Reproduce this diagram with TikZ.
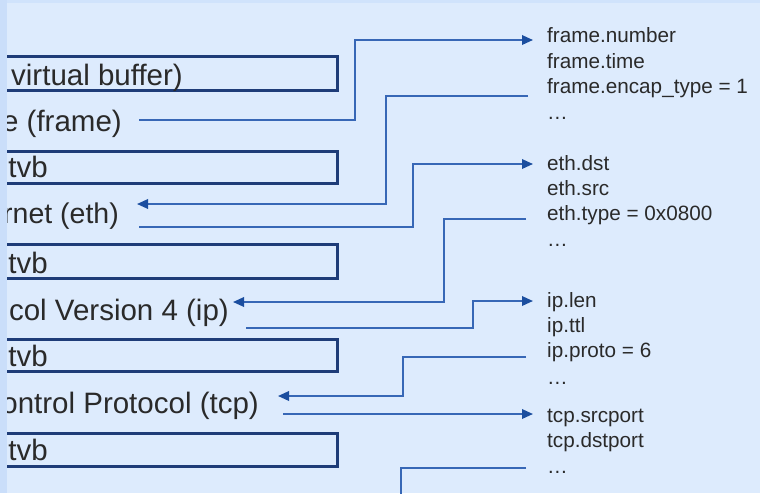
\documentclass[tikz,border=0pt]{standalone}
\usepackage{fontspec}
\setmainfont{Liberation Sans}
\usetikzlibrary{arrows.meta}
\definecolor{bgL}{HTML}{DDEBFD}
\definecolor{strip}{HTML}{CADEFA}
\definecolor{topstrip}{HTML}{D0E3FC}
\definecolor{boxline}{HTML}{1E3C78}
\definecolor{wire}{HTML}{3767B6}
\definecolor{tip}{HTML}{1B4E9F}
\definecolor{ink}{HTML}{2A2A2A}
\tikzset{
  layerbox/.style={draw=boxline, line width=3pt},
  lbl/.style={inner sep=0pt, anchor=base east, text=ink, font=\fontsize{29.5}{31}\selectfont},
  fld/.style={inner sep=0pt, anchor=base west, text=ink, font=\fontsize{20.7}{24}\selectfont},
  wireline/.style={draw=wire, line width=1.8pt},
  wirearrow/.style={wireline, -{Triangle[length=11pt,width=9.5pt,color=tip]}},
}
\begin{document}
\begin{tikzpicture}[x=1pt,y=-1pt]
  % page and background
  \path[use as bounding box] (0,0) rectangle (760,493);
  \fill[bgL] (0,0) rectangle (760,493);
  \fill[topstrip] (0,0) rectangle (760,3);

  % buffer boxes
  \draw[layerbox] (-10,56.5) rectangle (337.5,90.5);
  \draw[layerbox] (-10,151.5) rectangle (337.5,183.5);
  \draw[layerbox] (-10,244.5) rectangle (337.5,278.5);
  \draw[layerbox] (-10,339.5) rectangle (337.5,371.5);
  \draw[layerbox] (-10,433.5) rectangle (337.5,466.5);

  % layer labels
  \node[lbl] (vbuf)  at (183,85)  {virtual buffer)};
  \node[lbl] (frame) at (122,131) {e (frame)};
  \node[lbl] (tvbA)  at (48,177)  {tvb};
  \node[lbl, font=\fontsize{28.5}{30}\selectfont] (eth) at (119,223) {rnet (eth)};
  \node[lbl] (tvbB)  at (48,273)  {tvb};
  \node[lbl] (ip)    at (229,320) {col Version 4 (ip)};
  \node[lbl] (tvbC)  at (48,366)  {tvb};
  \node[lbl] (tcp)   at (259,413) {ontrol Protocol (tcp)};
  \node[lbl] (tvbD)  at (48,460)  {tvb};

  % field lists
  \node[fld] (f1) at (547,42.5)  {frame.number};
  \node[fld] (f2) at (547,68)    {frame.time};
  \node[fld] (f3) at (547,93.5)  {frame.encap\_type = 1};
  \node[fld] (f4) at (547,119)   {\dots};
  \node[fld] (e1) at (547,170)   {eth.dst};
  \node[fld] (e2) at (547,195.5) {eth.src};
  \node[fld] (e3) at (547,220.5) {eth.type = 0x0800};
  \node[fld] (e4) at (547,246)   {\dots};
  \node[fld] (i1) at (547,307)   {ip.len};
  \node[fld] (i2) at (547,332.5) {ip.ttl};
  \node[fld] (i3) at (547,357.5) {ip.proto = 6};
  \node[fld] (i4) at (547,384)   {\dots};
  \node[fld] (t1) at (547,422)   {tcp.srcport};
  \node[fld] (t2) at (547,447.5) {tcp.dstport};
  \node[fld] (t3) at (547,473)   {\dots};

  % connector ends
  \coordinate (frameOut)  at (139,120);
  \coordinate (frameIn)   at (533,40);
  \coordinate (encapOut)  at (528,96);
  \coordinate (ethIn)     at (137,204);
  \coordinate (ethOut)    at (139,227);
  \coordinate (ethDstIn)  at (533,164);
  \coordinate (ethTypeOut) at (526,219);
  \coordinate (ipIn)      at (233,302);
  \coordinate (ipOut)     at (246,328);
  \coordinate (ipLenIn)   at (533,301);
  \coordinate (protoOut)  at (526,357);
  \coordinate (tcpIn)     at (278,396);
  \coordinate (tcpOut)    at (283,414);
  \coordinate (tcpSrcIn)  at (533,414);
  \coordinate (moreOut)   at (526,468);
  \coordinate (moreEnd)   at (401,500);

  % connectors
  \draw[wirearrow] (frameOut) -- (355,120) |- (frameIn);
  \draw[wirearrow] (encapOut) -- (386,96) |- (ethIn);
  \draw[wirearrow] (ethOut) -- (413,227) |- (ethDstIn);
  \draw[wirearrow] (ethTypeOut) -- (444,219) |- (ipIn);
  \draw[wirearrow] (ipOut) -- (473,328) |- (ipLenIn);
  \draw[wirearrow] (protoOut) -- (403,357) |- (tcpIn);
  \draw[wirearrow] (tcpOut) -- (tcpSrcIn);
  \draw[wireline] (moreOut) -| (moreEnd);

  % left margin strip
  \fill[strip] (0,0) rectangle (7,493);
\end{tikzpicture}
\end{document}
